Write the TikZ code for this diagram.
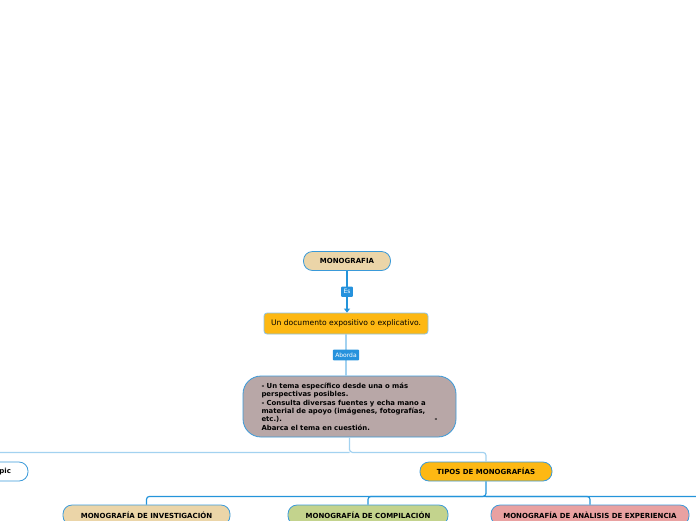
\documentclass[tikz,border=0pt]{standalone}
\usepackage{fontspec}
\setmainfont{DejaVu Sans}
\usetikzlibrary{arrows.meta}
\definecolor{edge}{HTML}{3A9AD9}
\definecolor{wire}{HTML}{2494DA}
\definecolor{wirel}{HTML}{A3D2F0}
\definecolor{tan}{HTML}{EBD5A8}
\definecolor{amber}{HTML}{FDB813}
\definecolor{mauve}{HTML}{B8A7A7}
\definecolor{sage}{HTML}{C3D38D}
\definecolor{rose}{HTML}{E9A1A1}
\definecolor{tagbg}{HTML}{2592DD}
\tikzset{
  topic/.style={draw=edge, line width=0.8pt, rounded corners=9pt, minimum height=19pt,
    inner sep=0pt, font=\fontsize{7}{8}\selectfont\bfseries},
  plain/.style={draw=edge!60, line width=0.8pt, rounded corners=3pt, minimum height=21pt,
    inner sep=0pt, font=\fontsize{7.6}{9}\selectfont},
  note/.style={draw=edge, line width=0.8pt, rounded corners=18pt, inner sep=0pt,
    minimum width=213pt, minimum height=61pt, align=left, text width=176pt,
    font=\fontsize{6.9}{8.4}\selectfont\bfseries},
  link/.style={draw=wire, line width=1.2pt},
  linkl/.style={draw=wirel, line width=1.2pt},
  tag/.style={fill=tagbg, text=white, rounded corners=1pt, inner xsep=2.5pt, inner ysep=3pt,
    font=\fontsize{6}{7}\selectfont},
}
\begin{document}
\begin{tikzpicture}[x=1pt,y=-1pt]
  \useasboundingbox (0,0) rectangle (696,520);
  \clip (0,0) rectangle (696,520);
  % nodes
  \node[topic, fill=tan, minimum width=87pt] (mono) at (347,261) {MONOGRAFIA};
  \node[plain, fill=amber, minimum width=164pt] (doc) at (346,323.5) {Un documento expositivo o explicativo.};
  \node[note, fill=mauve] (box) at (349.5,406.5) {%
    - Un tema específico desde una o más\\
    perspectivas posibles.\\
    - Consulta diversas fuentes y echa mano a\\
    material de apoyo (imágenes, fotografías,\\
    etc.).\hfill-\\
    Abarca el tema en cuestión.};
  \node[topic, fill=white, minimum width=74pt, text width=40pt, align=right, inner xsep=17pt] (pic) at (-9,471.5) {pic};
  \node[topic, fill=amber, minimum width=132pt] (tipos) at (486,471.5) {TIPOS DE MONOGRAFÍAS};
  \node[topic, fill=tan, minimum width=167pt, minimum height=20pt] (inv) at (146.5,515) {MONOGRAFÍA DE INVESTIGACIÓN};
  \node[topic, fill=sage, minimum width=160pt, minimum height=20pt] (comp) at (368,515) {MONOGRAFÍA DE COMPILACIÓN};
  \node[topic, fill=rose, minimum width=198pt, minimum height=20pt] (ana) at (590,515) {MONOGRAFÍA DE ANÀLISIS DE EXPERIENCIA};
  \coordinate (more) at (716,515);
  % connectors
  \draw[link, -{Triangle[width=6pt,length=4pt]}] (mono.south) -- node[tag] {Es} (mono.south |- doc.north);
  \draw[linkl] (doc.south) -- node[tag] {Aborda} (doc.south |- box.north);
  \draw[linkl, rounded corners=3pt] (box.south) -- ++(0,15) coordinate (j1) -| (tipos.north);
  \draw[linkl, rounded corners=3pt] (j1) -| (pic.north);
  \draw[link, rounded corners=3pt] (tipos.south) -- ++(0,15) coordinate (j2) -| (inv.north);
  \draw[link, rounded corners=3pt] (j2) -| (comp.north);
  \draw[link, rounded corners=3pt] (j2) -| (ana.north);
  \draw[link, rounded corners=3pt] (j2) -| (more);
\end{tikzpicture}
\end{document}
